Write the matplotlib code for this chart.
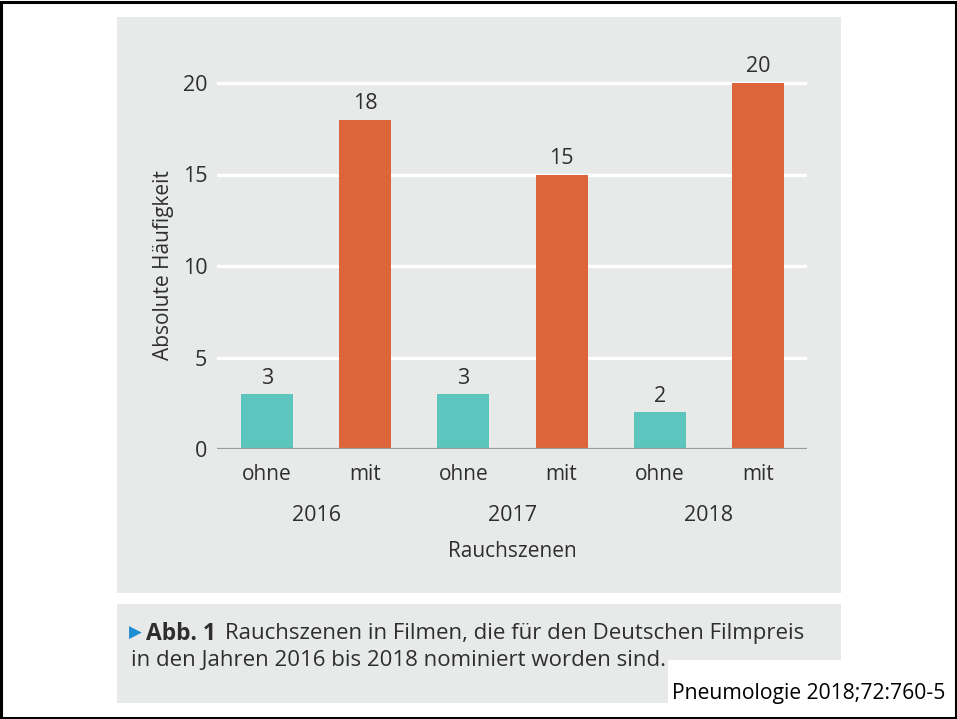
import matplotlib
matplotlib.use("Agg")
import matplotlib.pyplot as plt
from matplotlib.patches import Rectangle

plt.rcParams['font.family'] = ['Open Sans', 'DejaVu Sans']

years = ["2016", "2017", "2018"]
categories = ["ohne", "mit", "ohne", "mit", "ohne", "mit"]
values = [3, 18, 3, 15, 2, 20]
yticks = [0, 5, 10, 15, 20]
ylabel = "Absolute Häufigkeit"
xlabel = "Rauchszenen"
caption_bold = "Abb. 1"
caption_line1 = "Rauchszenen in Filmen, die für den Deutschen Filmpreis"
caption_line2 = "in den Jahren 2016 bis 2018 nominiert worden sind."
source = "Pneumologie 2018;72:760-5"

TEAL = "#5cc5bd"
ORANGE = "#de643a"
PANEL = "#e8eaea"
TXT = "#2e2e2e"
FS = 15

W, H = 957, 719
fig = plt.figure(figsize=(W / 100, H / 100), dpi=100)
fig.patch.set_facecolor("white")

def px_rect(x0, y0, x1, y1, **kw):
    r = Rectangle((x0 / W, 1 - y1 / H), (x1 - x0) / W, (y1 - y0) / H,
                  transform=fig.transFigure, **kw)
    fig.add_artist(r)
    return r

# panels
px_rect(117, 17, 841, 593, facecolor=PANEL, edgecolor="none", zorder=0)
px_rect(117, 604, 841, 703, facecolor=PANEL, edgecolor="none", zorder=0)
px_rect(668, 660, 953, 716, facecolor="white", edgecolor="none", zorder=1)
# outer frame
px_rect(1, 1.5, 955.5, 717.5, facecolor="none", edgecolor="black", linewidth=2.2, zorder=5)

# axes
ax_left, ax_right = 217, 807
ax_bottom, ax_top = 449, 46.4
ax = fig.add_axes([ax_left / W, 1 - ax_bottom / H, (ax_right - ax_left) / W, (ax_bottom - ax_top) / H])
ax.set_facecolor("none")
for s in ax.spines.values():
    s.set_visible(False)

x = list(range(len(values)))
colors = [TEAL if c == "ohne" else ORANGE for c in categories]
ax.bar(x, values, width=0.53, color=colors, zorder=3)
ax.set_xlim(-0.51, 5.5)
ax.set_ylim(0, 22)

for yv in yticks[1:]:
    ax.axhline(yv, color="white", linewidth=2.4, zorder=1)
ax.axhline(0, color="#9a9c9c", linewidth=1.6, zorder=4)

ax.set_yticks(yticks)
ax.set_yticklabels([str(t) for t in yticks], fontsize=FS + 0.5, color=TXT)
ax.tick_params(axis="y", length=0, pad=7)

ax.set_xticks(x)
ax.set_xticklabels(categories, fontsize=FS, color=TXT)
ax.tick_params(axis="x", length=0, pad=11)

for xi, v in zip(x, values):
    ax.annotate(str(v), (xi, v), xytext=(0, 4), textcoords="offset points",
                ha="center", va="bottom", fontsize=FS + 0.5, color=TXT)

for i, yr in enumerate(years):
    ax.annotate(yr, (2 * i + 0.5, 0), xycoords=("data", "axes fraction"),
                xytext=(0, -48), textcoords="offset points",
                ha="center", va="center", fontsize=FS + 0.5, color=TXT)

ax.annotate(xlabel, (2.5, 0), xycoords=("data", "axes fraction"),
            xytext=(0, -74), textcoords="offset points",
            ha="center", va="center", fontsize=FS, color=TXT)

fig.text(163 / W, 1 - 265 / H, ylabel, rotation=90, ha="center", va="center",
         fontsize=FS, color=TXT)

# caption
fig.text(129 / W, 1 - 633 / H, "\u25B6", ha="left", va="center", fontsize=12,
         color="#1e8fd2", family=["DejaVu Sans"], zorder=6)
tb = fig.text(146 / W, 1 - 634 / H, caption_bold, ha="left", va="center", fontsize=16.5,
              color=TXT, fontweight="bold", zorder=6)
fig.canvas.draw()
bb = tb.get_window_extent(renderer=fig.canvas.get_renderer())
x_rest = (bb.x1 + 9) / W
fig.text(x_rest, 1 - 634 / H, caption_line1, ha="left", va="center", fontsize=16,
         color=TXT, zorder=6)
fig.text(131 / W, 1 - 661 / H, caption_line2, ha="left", va="center", fontsize=16,
         color=TXT, zorder=6)

fig.text(945 / W, 1 - 694 / H, source, ha="right", va="center", fontsize=15.2,
         color="black", zorder=6)

fig.savefig("out.png", dpi=100)
